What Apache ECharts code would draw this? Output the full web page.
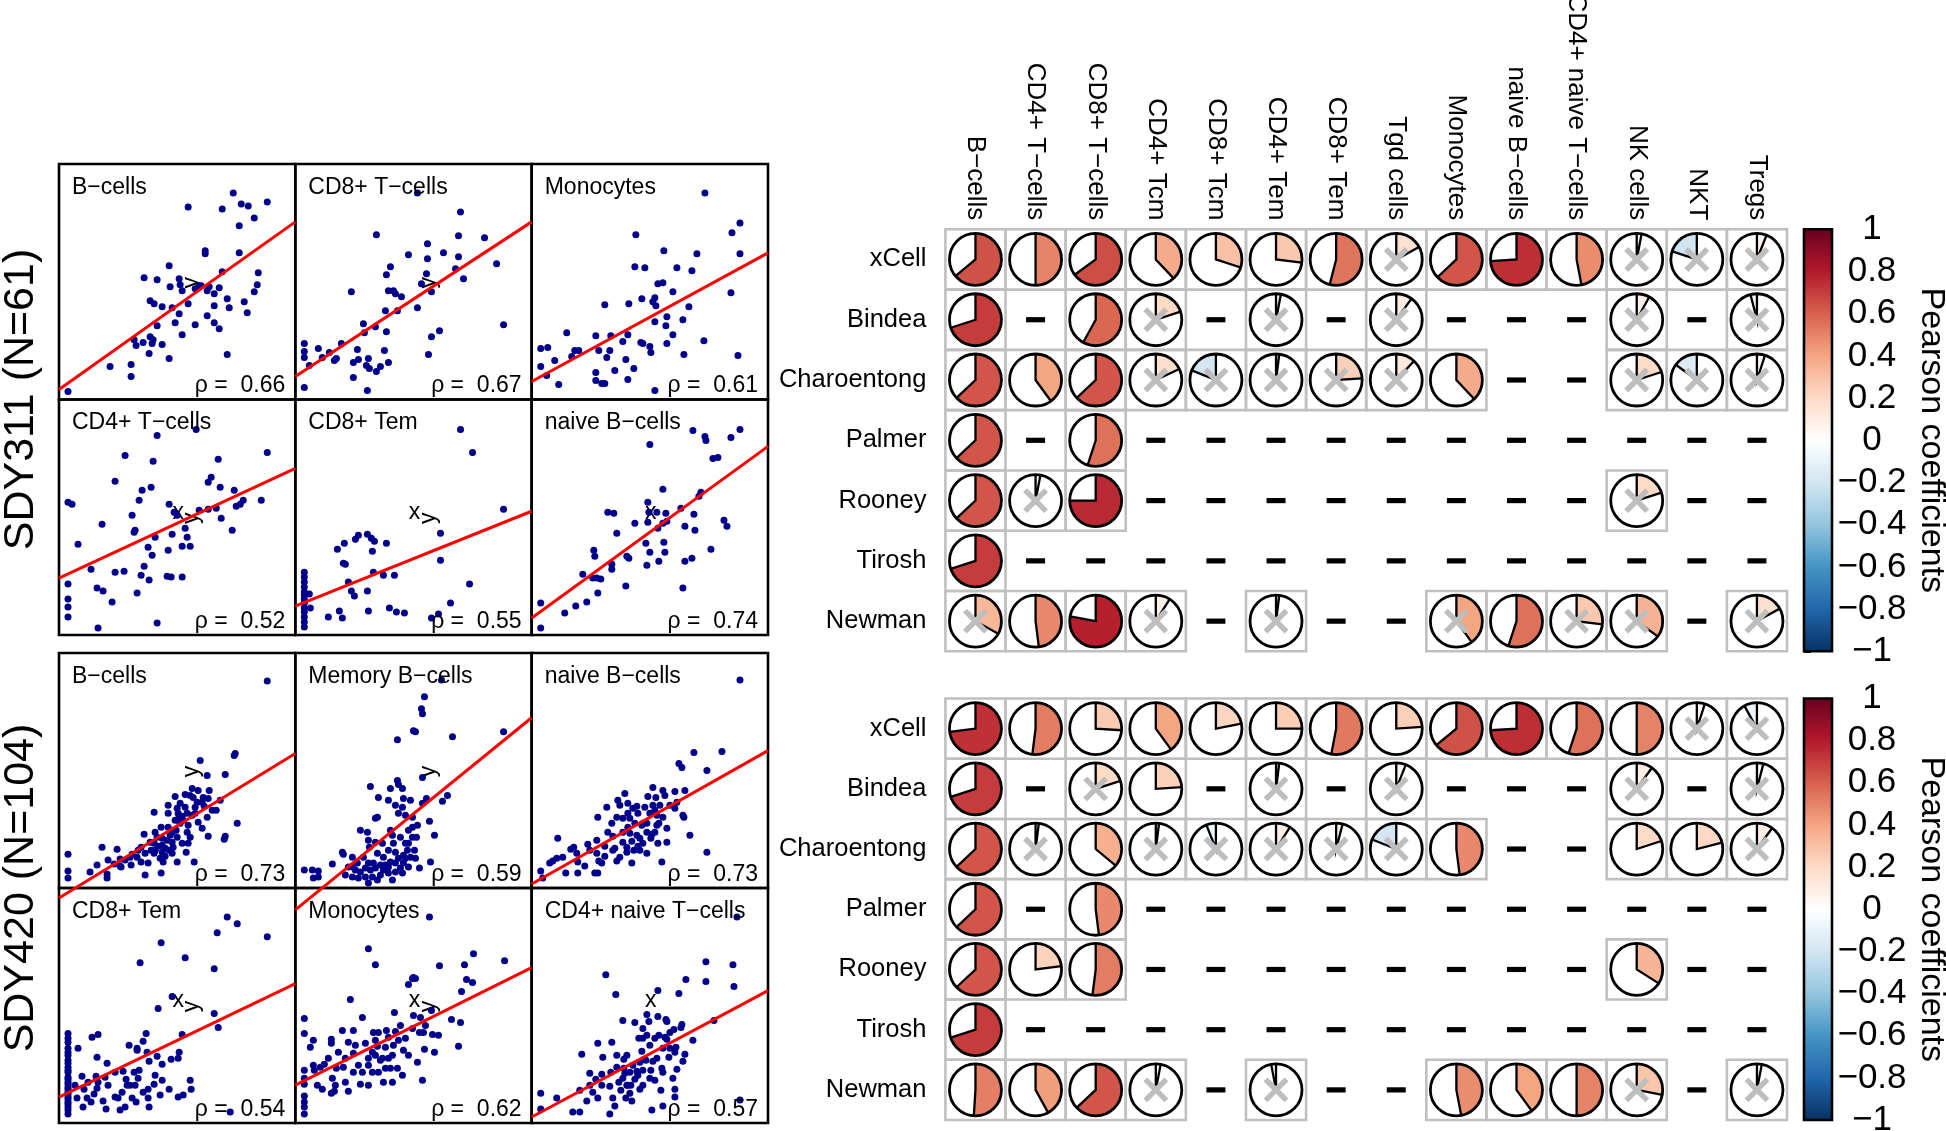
<!DOCTYPE html>
<html><head><meta charset="utf-8">
<script src="https://cdn.jsdelivr.net/npm/echarts/dist/echarts.min.js"></script>
<style>html,body{margin:0;padding:0;background:#fff}#c{width:1946px;height:1131px}</style>
</head><body><div id="c"></div><script>
// ---------------- DATA ----------------
const cellTypes = ['B\u2212cells','CD4+ T\u2212cells','CD8+ T\u2212cells','CD4+ Tcm','CD8+ Tcm','CD4+ Tem','CD8+ Tem','Tgd cells','Monocytes','naive B\u2212cells','CD4+ naive T\u2212cells','NK cells','NKT','Tregs'];
const methods = ['xCell','Bindea','Charoentong','Palmer','Rooney','Tirosh','Newman'];
const colorTicks = [-1,-0.8,-0.6,-0.4,-0.2,0,0.2,0.4,0.6,0.8,1];
const N = null;
// SDY311 Pearson coefficients (null = not available)
const sdy311_xCell       = [0.64,0.50,0.65,0.38,0.30,0.27,0.54,0.17,0.63,0.74,0.47,0.03,-0.20,0.06];
const sdy311_Bindea      = [0.70,N,0.58,0.20,N,0.03,N,0.10,N,N,N,0.08,N,-0.04];
const sdy311_Charoentong = [0.63,0.40,0.63,0.18,-0.19,0.02,0.24,0.12,0.38,N,N,0.20,-0.15,0.05];
const sdy311_Palmer      = [0.63,N,0.55,N,N,N,N,N,N,N,N,N,N,N];
const sdy311_Rooney      = [0.63,0.03,0.75,N,N,N,N,N,N,N,N,0.20,N,N];
const sdy311_Tirosh      = [0.70,N,N,N,N,N,N,N,N,N,N,N,N,N];
const sdy311_Newman      = [0.33,0.48,0.78,0.09,N,0.02,N,N,0.40,0.55,0.27,0.35,N,0.17];
// 1 = not significant (crossed)
const sdy311_xCell_ns       = [0,0,0,0,0,0,0,1,0,0,0,1,1,1];
const sdy311_Bindea_ns      = [0,0,0,1,0,1,0,1,0,0,0,1,0,1];
const sdy311_Charoentong_ns = [0,0,0,1,1,1,1,1,0,0,0,1,1,1];
const sdy311_Palmer_ns      = [0,0,0,0,0,0,0,0,0,0,0,0,0,0];
const sdy311_Rooney_ns      = [0,1,0,0,0,0,0,0,0,0,0,1,0,0];
const sdy311_Tirosh_ns      = [0,0,0,0,0,0,0,0,0,0,0,0,0,0];
const sdy311_Newman_ns      = [1,0,0,1,0,1,0,0,1,0,1,1,0,1];
// SDY420
const sdy420_xCell       = [0.73,0.52,0.26,0.40,0.22,0.25,0.53,0.24,0.64,0.74,0.55,0.50,0.05,-0.08];
const sdy420_Bindea      = [0.70,N,0.20,0.24,N,0.02,N,0.06,N,N,N,0.10,N,0.04];
const sdy420_Charoentong = [0.63,0.02,0.36,0.02,-0.06,0.09,0.04,-0.19,0.48,N,N,0.20,0.21,0.10];
const sdy420_Palmer      = [0.63,N,0.48,N,N,N,N,N,N,N,N,N,N,N];
const sdy420_Rooney      = [0.63,0.23,0.52,N,N,N,N,N,N,N,N,0.34,N,N];
const sdy420_Tirosh      = [0.70,N,N,N,N,N,N,N,N,N,N,N,N,N];
const sdy420_Newman      = [0.51,0.42,0.63,0.03,N,-0.03,N,N,0.47,0.40,0.50,0.28,N,0.03];
const sdy420_xCell_ns       = [0,0,0,0,0,0,0,0,0,0,0,0,1,1];
const sdy420_Bindea_ns      = [0,0,1,0,0,1,0,1,0,0,0,1,0,1];
const sdy420_Charoentong_ns = [0,1,0,1,1,1,1,1,0,0,0,0,0,1];
const sdy420_Palmer_ns      = [0,0,0,0,0,0,0,0,0,0,0,0,0,0];
const sdy420_Rooney_ns      = [0,0,0,0,0,0,0,0,0,0,0,0,0,0];
const sdy420_Tirosh_ns      = [0,0,0,0,0,0,0,0,0,0,0,0,0,0];
const sdy420_Newman_ns      = [0,0,0,1,0,1,0,0,0,0,0,1,0,1];

// Scatter panels (arbitrary units 0..236)
const sdy311_titles = ['B\u2212cells','CD8+ T\u2212cells','Monocytes','CD4+ T\u2212cells','CD8+ Tem','naive B\u2212cells'];
const sdy420_titles = ['B\u2212cells','Memory B\u2212cells','naive B\u2212cells','CD8+ Tem','Monocytes','CD4+ naive T\u2212cells'];
const sdy311_rho = ['0.66','0.67','0.61','0.52','0.55','0.74'];
const sdy420_rho = ['0.73','0.59','0.73','0.54','0.62','0.57'];
const sdy311_fit = [[10,178],[23,178],[18,147],[57,167],[29,124],[17,189]];
const sdy420_fit = [[-10,135],[-22,171],[4,138],[26,140],[38,156],[6,133]];

const sdy311_Bcells = [[9,8],[51,33],[72,35],[72,23],[77,54],[75,60],[84,57],[91,63],[93,56],[94,60],[90,46],[103,55],[110,41],[98,74],[91,99],[95,96],[103,93],[113,92],[120,86],[116,77],[123,65],[136,75],[129,96],[111,113],[110,134],[85,122],[98,120],[120,121],[121,115],[123,109],[136,111],[146,149],[146,146],[129,193],[148,109],[155,106],[160,71],[155,77],[148,84],[155,94],[168,101],[170,92],[163,128],[160,112],[168,45],[185,98],[188,87],[180,147],[180,174],[182,196],[189,194],[195,182],[174,207],[163,191],[208,198],[195,108],[198,115],[199,127],[142,114],[150,113],[140,114]];
const sdy311_CD8T = [[9,56],[9,48],[9,42],[9,12],[14,34],[23,51],[27,42],[34,47],[39,39],[41,41],[46,56],[56,108],[58,22],[58,37],[62,50],[63,40],[68,76],[69,67],[72,9],[73,41],[71,34],[74,31],[81,28],[80,73],[85,33],[89,49],[91,68],[90,89],[93,37],[93,109],[91,125],[95,133],[98,109],[100,106],[106,103],[102,89],[113,145],[81,165],[122,207],[165,188],[163,164],[189,162],[132,156],[148,147],[132,141],[163,143],[160,131],[168,121],[201,136],[131,126],[126,116],[136,108],[122,92],[208,75],[144,69],[136,63],[133,45]];
const sdy311_Mono = [[9,51],[16,52],[9,33],[15,24],[23,39],[27,15],[35,67],[40,43],[43,49],[47,49],[64,64],[64,27],[64,19],[67,49],[70,16],[73,16],[75,42],[78,49],[79,64],[83,29],[91,58],[94,40],[96,20],[96,65],[102,31],[97,96],[103,133],[104,165],[110,101],[109,57],[111,56],[113,132],[118,53],[119,47],[121,98],[123,102],[124,94],[123,78],[123,9],[126,116],[131,117],[132,149],[135,83],[134,74],[135,56],[141,65],[141,108],[145,132],[151,80],[152,45],[157,93],[160,129],[165,146],[172,59],[173,207],[199,107],[200,167],[206,44],[208,177],[208,146],[73,95]];
const sdy311_CD4T = [[9,133],[13,131],[19,91],[9,51],[9,36],[9,28],[9,18],[39,7],[32,66],[38,47],[44,44],[53,33],[43,111],[56,154],[66,180],[56,63],[65,64],[73,120],[75,103],[76,105],[80,135],[83,145],[92,148],[78,42],[82,60],[85,69],[90,55],[89,88],[93,80],[96,98],[94,174],[98,200],[98,12],[109,85],[110,131],[108,59],[112,58],[113,101],[123,58],[123,89],[126,107],[128,98],[131,89],[137,206],[140,125],[149,153],[152,158],[149,126],[157,127],[159,176],[161,148],[162,117],[173,105],[175,145],[177,129],[181,131],[184,135],[202,135],[208,183],[115,123],[118,120]];
const sdy311_CD8Tem = [[9,63],[9,58],[9,53],[9,48],[9,43],[9,40],[9,36],[9,32],[9,27],[9,23],[9,18],[9,13],[9,8],[14,41],[15,27],[33,18],[44,24],[47,17],[53,53],[56,44],[59,39],[72,44],[73,24],[94,27],[101,23],[109,22],[99,60],[88,60],[78,63],[77,84],[79,94],[76,97],[91,92],[72,101],[63,100],[60,96],[48,72],[50,71],[42,86],[49,92],[165,206],[177,183],[208,126],[145,102],[145,75],[174,51],[155,32],[143,21],[136,17]];
const sdy311_naiveB = [[9,32],[9,7],[33,22],[44,29],[55,33],[66,42],[51,61],[61,57],[65,57],[69,56],[62,85],[63,79],[80,71],[80,66],[94,49],[95,79],[97,77],[85,102],[76,123],[82,122],[103,112],[114,92],[115,70],[118,83],[116,113],[117,123],[116,133],[118,191],[125,123],[126,107],[127,74],[131,146],[132,93],[133,83],[134,122],[135,114],[149,127],[153,109],[153,74],[151,47],[160,77],[162,121],[163,105],[167,139],[169,143],[161,205],[173,199],[174,195],[181,177],[186,178],[179,86],[192,115],[195,109],[199,198],[208,206],[131,112]];

const sdy420_Bcells = [[9,34],[9,17],[9,10],[31,16],[43,41],[48,14],[48,10],[58,39],[55,24],[61,29],[62,21],[66,28],[72,23],[73,34],[78,31],[82,41],[85,54],[86,13],[95,76],[95,45],[96,38],[99,42],[102,61],[103,50],[103,36],[104,26],[106,40],[109,61],[111,53],[113,46],[114,41],[116,68],[109,83],[116,92],[118,80],[119,75],[120,71],[123,72],[126,94],[128,75],[129,63],[129,45],[131,93],[124,68],[133,100],[133,73],[135,26],[118,26],[143,86],[144,91],[145,82],[148,113],[149,90],[150,98],[143,60],[149,52],[157,78],[161,88],[166,52],[165,49],[166,114],[175,133],[176,135],[178,65],[141,128],[208,208],[102,15],[95,35],[106,32],[109,75],[113,56],[123,45],[127,36],[136,75],[139,66],[86,35],[91,46],[134,91],[138,86],[153,78],[98,51],[108,48],[117,58],[121,65],[128,56],[92,38],[101,30],[113,35],[79,38],[71,31],[61,22],[121,85],[136,81],[148,71],[103,43],[110,38],[131,51],[89,25],[49,28],[38,23],[82,26],[118,51],[126,81],[139,98],[96,56]];
const sdy420_MemB = [[9,18],[17,18],[23,17],[18,10],[23,11],[37,24],[47,36],[48,34],[65,58],[72,56],[73,48],[74,41],[80,70],[82,71],[83,91],[75,102],[93,88],[95,100],[100,83],[102,108],[103,104],[107,100],[108,90],[102,149],[118,158],[95,58],[97,53],[103,75],[110,73],[113,58],[117,51],[112,38],[108,33],[108,25],[105,20],[100,25],[95,26],[90,23],[85,23],[80,20],[75,18],[70,20],[65,16],[60,18],[57,11],[63,10],[70,11],[77,11],[85,13],[93,15],[100,16],[107,15],[53,21],[57,31],[73,25],[82,35],[88,31],[93,38],[100,36],[113,45],[80,46],[87,45],[146,209],[129,192],[126,180],[127,175],[120,157],[157,152],[208,157],[127,111],[131,90],[147,87],[152,93],[127,85],[122,63],[134,67],[121,51],[139,53],[119,38],[120,30],[135,26],[124,20],[115,88],[117,71],[113,21],[110,30],[115,31],[88,18],[78,25],[68,31],[62,25],[98,45],[105,51],[50,13],[97,8],[82,8],[73,5],[103,30],[93,21],[57,21],[110,45],[117,61],[107,81]];
const sdy420_naiveB = [[9,17],[11,10],[18,25],[25,30],[21,27],[26,50],[34,15],[39,39],[42,41],[46,15],[46,26],[53,22],[56,44],[63,15],[65,35],[66,15],[66,71],[67,27],[73,32],[75,81],[73,42],[80,65],[81,38],[81,52],[85,27],[86,88],[88,83],[91,70],[91,56],[91,46],[93,95],[95,41],[95,36],[96,85],[96,75],[96,61],[98,55],[100,25],[100,47],[101,80],[103,65],[105,53],[105,82],[106,75],[106,42],[108,50],[110,63],[111,65],[115,35],[116,92],[118,75],[119,50],[120,54],[121,101],[121,83],[123,56],[124,91],[125,63],[125,73],[127,65],[128,83],[130,26],[131,98],[133,93],[135,46],[135,60],[138,83],[143,80],[143,97],[145,86],[147,125],[150,121],[151,73],[152,71],[153,98],[158,53],[162,136],[175,118],[175,36],[190,137],[208,209],[131,71],[108,38],[111,45],[83,40],[76,56],[65,48],[58,38],[31,31],[45,35],[113,81],[115,65],[126,45],[98,70],[70,25],[88,31],[102,38],[115,56],[123,78],[85,71]];
const sdy420_CD8Tem = [[9,90],[9,85],[9,75],[9,68],[9,63],[9,56],[9,51],[9,46],[9,41],[9,36],[9,31],[9,26],[9,21],[9,16],[9,13],[9,9],[9,81],[9,71],[9,60],[9,53],[9,44],[9,39],[9,34],[9,29],[9,24],[9,19],[19,75],[23,47],[25,34],[24,16],[28,25],[33,86],[32,21],[35,29],[37,47],[38,66],[38,35],[39,89],[44,22],[47,14],[48,60],[56,26],[59,25],[61,13],[64,52],[66,16],[67,44],[70,78],[71,38],[73,25],[75,51],[76,38],[77,21],[78,75],[78,73],[80,53],[81,161],[84,82],[87,90],[88,71],[89,34],[89,25],[90,16],[90,62],[95,39],[98,67],[99,115],[101,28],[102,181],[103,59],[103,43],[110,34],[113,127],[112,64],[119,65],[119,26],[120,71],[123,89],[124,28],[126,166],[131,43],[132,34],[155,155],[155,110],[158,191],[159,96],[168,207],[178,200],[208,187],[171,11],[68,38],[79,45],[96,48],[63,31],[49,38],[84,31],[39,41],[29,41],[16,38],[18,25],[46,46],[56,51]];
const sdy420_Mono = [[9,105],[9,90],[9,53],[9,45],[9,39],[9,27],[9,21],[9,16],[9,9],[15,76],[18,83],[18,58],[19,53],[22,38],[27,34],[29,59],[36,84],[36,80],[37,45],[36,30],[39,32],[41,55],[47,93],[48,56],[50,41],[53,32],[55,124],[58,70],[58,93],[58,51],[65,39],[67,106],[70,80],[73,58],[73,175],[80,159],[73,38],[73,65],[77,71],[78,91],[82,77],[83,91],[85,63],[87,65],[88,41],[90,76],[91,93],[93,65],[95,55],[97,41],[98,78],[99,111],[100,92],[102,55],[103,83],[107,48],[108,73],[113,139],[117,145],[80,83],[134,207],[118,146],[120,145],[144,158],[169,159],[178,170],[209,163],[171,144],[177,141],[166,132],[136,113],[125,106],[130,98],[124,91],[128,91],[137,89],[143,88],[156,104],[165,101],[163,77],[129,74],[139,71],[122,61],[127,43],[118,108],[117,95],[60,78],[63,58],[67,51],[77,51],[83,51],[90,55],[43,71],[33,65],[25,56],[53,81],[93,86],[110,85],[113,68],[80,68],[50,65],[40,38],[97,68],[105,98]];
const sdy420_CD4naiveT = [[9,30],[9,14],[25,25],[41,11],[48,11],[48,33],[50,69],[55,22],[58,50],[61,31],[64,44],[66,25],[66,80],[70,49],[71,66],[74,149],[78,37],[78,9],[80,81],[81,25],[83,17],[84,129],[87,41],[89,33],[91,45],[91,103],[92,64],[92,55],[93,50],[94,25],[95,38],[96,38],[98,51],[99,38],[100,22],[101,58],[103,101],[103,44],[105,52],[106,48],[107,85],[108,34],[110,72],[111,85],[111,53],[114,63],[115,88],[115,109],[117,102],[118,45],[119,53],[120,13],[121,62],[125,65],[126,133],[126,107],[127,88],[129,33],[130,55],[131,17],[131,75],[133,86],[134,104],[135,102],[135,84],[137,66],[138,75],[141,45],[142,94],[143,71],[143,26],[143,34],[144,76],[145,54],[147,130],[149,96],[150,99],[151,62],[153,69],[154,144],[161,83],[174,162],[174,142],[182,103],[201,159],[202,137],[208,23],[205,207],[79,51],[85,56],[98,30],[111,38],[123,43],[131,51],[108,61],[118,78],[95,68],[70,38],[58,38],[85,68],[138,91],[123,85],[111,95]];

const sdy311_points = [sdy311_Bcells, sdy311_CD8T, sdy311_Mono, sdy311_CD4T, sdy311_CD8Tem, sdy311_naiveB];
const sdy420_points = [sdy420_Bcells, sdy420_MemB, sdy420_naiveB, sdy420_CD8Tem, sdy420_Mono, sdy420_CD4naiveT];
const sdy311_xy = ['y','y','','xy','xy','x'];
const sdy420_xy = ['y','y','','xy','xy','x'];

// ---------------- LAYOUT / STYLE ----------------
const FONT = '"Liberation Sans", Arial, Helvetica, sans-serif';
const palette = ['#053061','#2166AC','#4393C3','#92C5DE','#D1E5F0','#FFFFFF','#FDDBC7','#F4A582','#D6604D','#B2182B','#67001F'];
const COLS_X = [59, 295.3, 531.7];
const ROWS_Y = [164, 399.5, 653, 888];
const PW = 236.3;
const AX = 236;

const grids = [], xAxes = [], yAxes = [], series = [], texts = [];
const allPoints = sdy311_points.concat(sdy420_points);
const allFit = sdy311_fit.concat(sdy420_fit);
const allTitles = sdy311_titles.concat(sdy420_titles);
const allRho = sdy311_rho.concat(sdy420_rho);
const allXY = sdy311_xy.concat(sdy420_xy);

for (let i = 0; i < 12; i++) {
  const g = Math.floor(i / 6), k = i % 6;
  const row = g * 2 + Math.floor(k / 3), col = k % 3;
  const left = COLS_X[col], top = ROWS_Y[row];
  const h = row < 2 ? 235.5 : 235;
  grids.push({left: left, top: top, width: PW, height: h, show: true, borderColor: '#000', borderWidth: 2.6, backgroundColor: 'transparent', containLabel: false, outerBoundsMode: 'none'});
  xAxes.push({gridIndex: i, type: 'value', min: 0, max: AX, show: false});
  yAxes.push({gridIndex: i, type: 'value', min: 0, max: AX, show: false});
  const cx = left + PW / 2, cy = top + h / 2;
  if (allXY[i].indexOf('x') >= 0) texts.push({type: 'text', x: cx + 1, y: cy - 5, z: 1, style: {text: 'x', fontSize: 23, fontFamily: FONT, fill: '#000', align: 'center', verticalAlign: 'middle'}});
  if (allXY[i].indexOf('y') >= 0) texts.push({type: 'text', x: cx + 15, y: cy + 1, z: 1, rotation: Math.PI / 2, style: {text: 'y', fontSize: 23, fontFamily: FONT, fill: '#000', align: 'center', verticalAlign: 'middle'}});
  texts.push({type: 'text', x: left + 13, y: top + 12, z: 10, style: {text: allTitles[i], fontSize: 23, fontFamily: FONT, fill: '#000', align: 'left', verticalAlign: 'top'}});
  texts.push({type: 'text', x: left + PW - 10, y: top + h - 2, z: 10, style: {text: '\u03C1 =  ' + allRho[i], fontSize: 23, fontFamily: FONT, fill: '#000', align: 'right', verticalAlign: 'bottom'}});
}
for (let i = 0; i < 12; i++) {
  series.push({type: 'scatter', xAxisIndex: i, yAxisIndex: i, data: allPoints[i], symbolSize: 7, itemStyle: {color: '#00008B', opacity: 1}, z: 3, silent: true});
}
for (let i = 0; i < 12; i++) {
  series.push({type: 'line', xAxisIndex: i, yAxisIndex: i, data: [[0, allFit[i][0]], [AX, allFit[i][1]]], symbol: 'none', lineStyle: {color: '#FF0000', width: 3}, clip: false, z: 4, silent: true});
}

// group labels
texts.push({type: 'text', x: 21, y: 399.5, rotation: Math.PI / 2, style: {text: 'SDY311 (N=61)', fontSize: 43, fontFamily: FONT, fill: '#000', align: 'center', verticalAlign: 'middle'}});
texts.push({type: 'text', x: 21, y: 888, rotation: Math.PI / 2, style: {text: 'SDY420 (N=104)', fontSize: 43, fontFamily: FONT, fill: '#000', align: 'center', verticalAlign: 'middle'}});

// matrices
const M_LEFT = 945.4, M_W = 841.6;
const M_TOPS = [229.3, 698.5], M_H = [422, 421.5];
function buildMatrix(rows, nsRows) {
  const out = [];
  rows.forEach((row, r) => row.forEach((v, c) => {
    out.push([c, r, v === null ? 0 : v, nsRows[r][c], v === null ? 1 : 0]);
  }));
  return out;
}
const mat311 = buildMatrix([sdy311_xCell, sdy311_Bindea, sdy311_Charoentong, sdy311_Palmer, sdy311_Rooney, sdy311_Tirosh, sdy311_Newman],
  [sdy311_xCell_ns, sdy311_Bindea_ns, sdy311_Charoentong_ns, sdy311_Palmer_ns, sdy311_Rooney_ns, sdy311_Tirosh_ns, sdy311_Newman_ns]);
const mat420 = buildMatrix([sdy420_xCell, sdy420_Bindea, sdy420_Charoentong, sdy420_Palmer, sdy420_Rooney, sdy420_Tirosh, sdy420_Newman],
  [sdy420_xCell_ns, sdy420_Bindea_ns, sdy420_Charoentong_ns, sdy420_Palmer_ns, sdy420_Rooney_ns, sdy420_Tirosh_ns, sdy420_Newman_ns]);

function renderCell(params, api) {
  const c = api.value(0), r = api.value(1), v = api.value(2), ns = api.value(3), na = api.value(4);
  const p = api.coord([c, r]);
  const s = api.size([1, 1]);
  const cx = p[0], cy = p[1];
  const ch = [];
  if (na) {
    ch.push({type: 'rect', shape: {x: cx - 9.5, y: cy - 2.6, width: 19, height: 5.2}, style: {fill: '#000'}});
    return {type: 'group', children: ch};
  }
  ch.push({type: 'rect', shape: {x: cx - s[0] / 2, y: cy - s[1] / 2, width: s[0], height: s[1]}, style: {fill: 'none', stroke: '#C0C0C0', lineWidth: 2.6}});
  const R = 26;
  ch.push({type: 'circle', shape: {cx: cx, cy: cy, r: R}, style: {fill: '#fff'}});
  const a0 = -Math.PI / 2, a1 = a0 + 2 * Math.PI * v;
  ch.push({type: 'sector', shape: {cx: cx, cy: cy, r0: 0, r: R, startAngle: a0, endAngle: a1, clockwise: v >= 0}, style: {fill: api.visual('color')}});
  ch.push({type: 'polyline', shape: {points: [[cx, cy - R], [cx, cy], [cx + R * Math.cos(a1), cy + R * Math.sin(a1)]]}, style: {fill: 'none', stroke: '#000', lineWidth: 2.3}});
  if (ns) {
    const d = 10.5;
    ch.push({type: 'line', shape: {x1: cx - d, y1: cy - d, x2: cx + d, y2: cy + d}, style: {stroke: '#BEBEBE', lineWidth: 5.5}});
    ch.push({type: 'line', shape: {x1: cx - d, y1: cy + d, x2: cx + d, y2: cy - d}, style: {stroke: '#BEBEBE', lineWidth: 5.5}});
  }
  ch.push({type: 'circle', shape: {cx: cx, cy: cy, r: R}, style: {fill: 'none', stroke: '#000', lineWidth: 2.8}});
  return {type: 'group', children: ch};
}

for (let m = 0; m < 2; m++) {
  grids.push({left: M_LEFT, top: M_TOPS[m], width: M_W, height: M_H[m], show: false, containLabel: false, outerBoundsMode: 'none'});
  xAxes.push({gridIndex: 12 + m, type: 'category', data: cellTypes, position: 'top',
    axisLine: {show: false}, axisTick: {show: false}, splitLine: {show: false},
    axisLabel: {show: m === 0, rotate: 90, interval: 0, fontSize: 26, color: '#000', margin: 9, fontFamily: FONT, hideOverlap: false}});
  yAxes.push({gridIndex: 12 + m, type: 'category', data: methods, inverse: true,
    axisLine: {show: false}, axisTick: {show: false}, splitLine: {show: false},
    axisLabel: {fontSize: 25.5, color: '#000', margin: 19, fontFamily: FONT}});
}
series.push({type: 'custom', xAxisIndex: 12, yAxisIndex: 12, data: mat311, renderItem: renderCell, silent: true, z: 3});
series.push({type: 'custom', xAxisIndex: 13, yAxisIndex: 13, data: mat420, renderItem: renderCell, silent: true, z: 3});

// colorbars
const gradStops = palette.slice().reverse().map((c, i) => ({offset: i / 10, color: c}));
function renderBar(params, api) {
  const a = api.coord([0, colorTicks[colorTicks.length - 1]]);
  const b = api.coord([1, colorTicks[0]]);
  return {type: 'rect', shape: {x: a[0], y: a[1], width: b[0] - a[0], height: b[1] - a[1]},
    style: {fill: new echarts.graphic.LinearGradient(0, 0, 0, 1, gradStops), stroke: '#000', lineWidth: 2.6}};
}
for (let m = 0; m < 2; m++) {
  grids.push({left: 1804, top: M_TOPS[m], width: 28, height: M_H[m], show: false, containLabel: false, outerBoundsMode: 'none'});
  xAxes.push({gridIndex: 14 + m, type: 'value', min: 0, max: 1, show: false});
  yAxes.push({gridIndex: 14 + m, type: 'value', min: -1, max: 1, interval: 0.2, position: 'right',
    axisLine: {show: false}, splitLine: {show: false},
    axisTick: {show: true, length: 7, lineStyle: {color: '#000', width: 2}},
    axisLabel: {fontSize: 35, color: '#000', align: 'center', margin: 40, fontFamily: FONT, hideOverlap: false,
      formatter: v => String(Math.round(v * 10) / 10).replace('-', '\u2212')},
    name: 'Pearson coefficients', nameLocation: 'middle', nameRotate: -90, nameGap: 82,
    nameTextStyle: {fontSize: 34, color: '#000', fontFamily: FONT}});
  series.push({type: 'custom', xAxisIndex: 14 + m, yAxisIndex: 14 + m, data: [[0, 0]], renderItem: renderBar, silent: true, z: 2});
}

const option = {
  animation: false,
  backgroundColor: '#fff',
  textStyle: {fontFamily: FONT},
  grid: grids, xAxis: xAxes, yAxis: yAxes,
  visualMap: {type: 'continuous', show: false, min: -1, max: 1, dimension: 2, seriesIndex: [24, 25], inRange: {color: palette}},
  series: series,
  graphic: {elements: texts}
};
const chart = echarts.init(document.getElementById('c'), null, {renderer: 'canvas'});
chart.setOption(option);
</script></body></html>
